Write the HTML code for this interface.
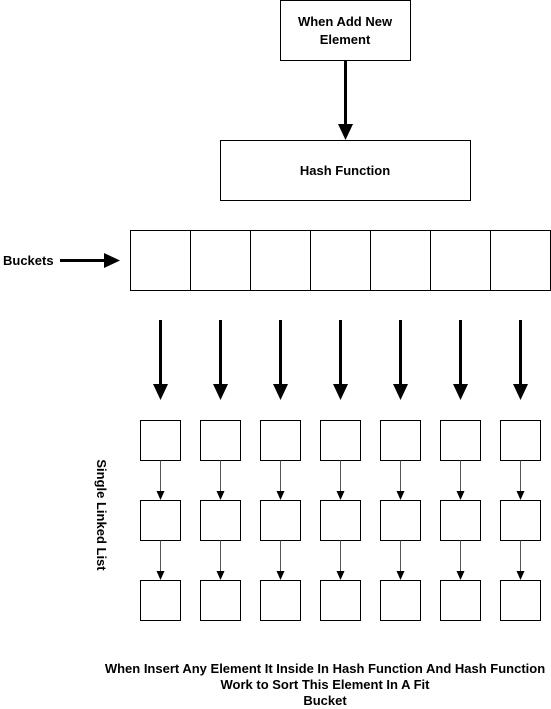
<!DOCTYPE html>
<html><head><style>
html,body{margin:0;padding:0;background:#fff;width:551px;height:709px;overflow:hidden}
svg text{font-family:"Liberation Sans",Arial,sans-serif;font-weight:bold;font-size:13px;fill:#000}
</style></head><body>
<svg width="551" height="709" viewBox="0 0 551 709" xmlns="http://www.w3.org/2000/svg">
<defs>
<g id="col">
<line x1="0" y1="320" x2="0" y2="386" stroke="#000" stroke-width="3"/>
<polygon points="-7.5,384 7.5,384 0,400" fill="#000"/>
<rect x="-20" y="420.5" width="40" height="40" fill="#fff" stroke="#000"/>
<rect x="-20" y="500.5" width="40" height="40" fill="#fff" stroke="#000"/>
<rect x="-20" y="580.5" width="40" height="40" fill="#fff" stroke="#000"/>
<line x1="0" y1="460.5" x2="0" y2="493" stroke="#555"/>
<polygon points="-4,491 4,491 0,500" fill="#000"/>
<line x1="0" y1="540.5" x2="0" y2="573" stroke="#555"/>
<polygon points="-4,571 4,571 0,580" fill="#000"/>
</g>
</defs>
<g fill="#fff" stroke="#000" stroke-width="1">
<rect x="280.5" y="0.5" width="130" height="60"/>
<rect x="220.5" y="140.5" width="250" height="60"/>
<rect x="130.5" y="230.5" width="420" height="60"/>
<line x1="190.5" y1="230.5" x2="190.5" y2="290.5"/>
<line x1="250.5" y1="230.5" x2="250.5" y2="290.5"/>
<line x1="310.5" y1="230.5" x2="310.5" y2="290.5"/>
<line x1="370.5" y1="230.5" x2="370.5" y2="290.5"/>
<line x1="430.5" y1="230.5" x2="430.5" y2="290.5"/>
<line x1="490.5" y1="230.5" x2="490.5" y2="290.5"/>
</g>
<text x="345" y="26" text-anchor="middle">When Add New</text>
<text x="345" y="44" text-anchor="middle">Element</text>
<text x="345" y="175" text-anchor="middle">Hash Function</text>
<text x="3" y="265">Buckets</text>
<g stroke="#000" stroke-width="3">
<line x1="345.5" y1="60" x2="345.5" y2="126"/>
<line x1="60" y1="260.5" x2="106" y2="260.5"/>
</g>
<polygon points="338,124 353,124 345.5,140" fill="#000"/>
<polygon points="104,253 104,268 120,260.5" fill="#000"/>
<use href="#col" x="160.5"/>
<use href="#col" x="220.5"/>
<use href="#col" x="280.5"/>
<use href="#col" x="340.5"/>
<use href="#col" x="400.5"/>
<use href="#col" x="460.5"/>
<use href="#col" x="520.5"/>
<text transform="translate(97,515) rotate(90)" text-anchor="middle">Single Linked List</text>
<text x="325" y="673" text-anchor="middle">When Insert Any Element It Inside In Hash Function  And Hash Function</text>
<text x="325" y="689" text-anchor="middle">Work to Sort This Element In A Fit</text>
<text x="325" y="705" text-anchor="middle">Bucket</text>
</svg>
</body></html>
